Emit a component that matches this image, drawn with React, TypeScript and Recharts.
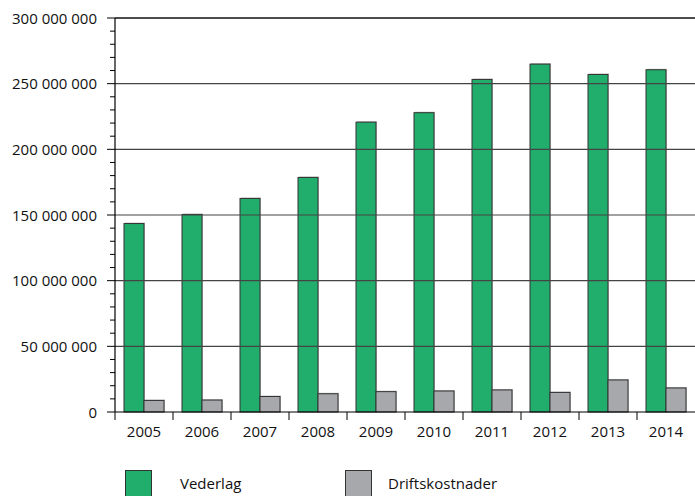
import { BarChart, Bar, XAxis, YAxis, ReferenceLine } from "recharts";

const years = ["2005", "2006", "2007", "2008", "2009", "2010", "2011", "2012", "2013", "2014"];
const vederlag = [143500000, 150400000, 162600000, 178600000, 220700000, 227900000, 253200000, 264900000, 257000000, 260600000];
const driftskostnader = [8800000, 9100000, 11800000, 13900000, 15500000, 16000000, 16800000, 14900000, 24400000, 18300000];
const majorTicks = [0, 50000000, 100000000, 150000000, 200000000, 250000000, 300000000];
const seriesKeys = ["vederlag", "driftskostnader"];
const seriesNames = ["Vederlag", "Driftskostnader"];
const seriesColors = ["#21ae6c", "#a7a8ac"];

const data = years.map((year, i) => ({
  year,
  vederlag: vederlag[i],
  driftskostnader: driftskostnader[i],
}));

// ticks every 10 million, only the major ones get a label
const minorTicks = Array.from({ length: 31 }, (_, i) => i * 10000000);

const WIDTH = 695;
const HEIGHT = 496;
const Y_AXIS_WIDTH = 115;
const BAND = (WIDTH - Y_AXIS_WIDTH) / years.length;
const FONT = "'Open Sans', sans-serif";

function fmt(v: number) {
  return String(v).replace(/\B(?=(\d{3})+(?!\d))/g, " ");
}

function YTick(props: any) {
  const { x, y, payload } = props;
  const major = majorTicks.includes(payload.value);
  return (
    <g>
      <line x1={x - (major ? 8 : 5)} x2={x} y1={y} y2={y} stroke="#000" strokeWidth={1} />
      {major && (
        <text x={x - 18} y={y + 5.5} textAnchor="end" fontSize={15} fontFamily={FONT} fill="#111">
          {fmt(payload.value)}
        </text>
      )}
    </g>
  );
}

function XTick(props: any) {
  const { x, y, payload } = props;
  const left = x - BAND / 2;
  return (
    <g>
      <line x1={left} x2={left} y1={y} y2={y + 8} stroke="#000" strokeWidth={1} />
      <text x={x} y={y + 25} textAnchor="middle" fontSize={15} fontFamily={FONT} fill="#111">
        {payload.value}
      </text>
    </g>
  );
}

function BarShape(props: any) {
  const { x, y, width, height, fill } = props;
  if (!height || height <= 0) return null;
  return (
    <g>
      <rect x={x + 1} y={y - 1} width={width} height={height + 1} fill="#c4c4c4" />
      <rect x={x} y={y} width={width} height={height} fill={fill} stroke="#333" strokeWidth={1} />
    </g>
  );
}

export default function App() {
  return (
    <div style={{ position: "absolute", left: 0, top: 0, width: WIDTH, height: HEIGHT, background: "#fff", overflow: "hidden" }}>
      <BarChart
        width={WIDTH}
        height={HEIGHT}
        data={data}
        margin={{ top: 18, right: 0, left: 0, bottom: 0 }}
        barCategoryGap={9}
        barGap={0}
      >
        <XAxis
          dataKey="year"
          height={84}
          axisLine={{ stroke: "#000", strokeWidth: 1.2 }}
          tickLine={false}
          tickSize={0}
          tickMargin={0}
          interval={0}
          tick={<XTick />}
        />
        <YAxis
          width={Y_AXIS_WIDTH}
          domain={[0, 300000000]}
          ticks={minorTicks}
          interval={0}
          axisLine={{ stroke: "#000", strokeWidth: 1.2 }}
          tickLine={false}
          tickSize={0}
          tickMargin={0}
          tick={<YTick />}
        />
        {majorTicks.slice(1).map((v) => (
          <ReferenceLine
            key={v}
            y={v}
            stroke={v === 300000000 ? "#111" : "#444"}
            strokeWidth={v === 300000000 ? 1.6 : 1.2}
          />
        ))}
        {seriesKeys.map((k, i) => (
          <Bar
            key={k}
            dataKey={k}
            name={seriesNames[i]}
            fill={seriesColors[i]}
            shape={<BarShape />}
            isAnimationActive={false}
          />
        ))}
      </BarChart>
      {seriesNames.map((name, i) => (
        <div key={name}>
          <div
            style={{
              position: "absolute",
              left: 125 + i * 220,
              top: 470,
              width: 27,
              height: 27,
              background: seriesColors[i],
              border: "1px solid #333",
              boxSizing: "border-box",
            }}
          />
          <div
            style={{
              position: "absolute",
              left: 180 + i * 208,
              top: 473,
              fontFamily: FONT,
              fontSize: 15,
              lineHeight: "20px",
              color: "#111",
            }}
          >
            {name}
          </div>
        </div>
      ))}
    </div>
  );
}
